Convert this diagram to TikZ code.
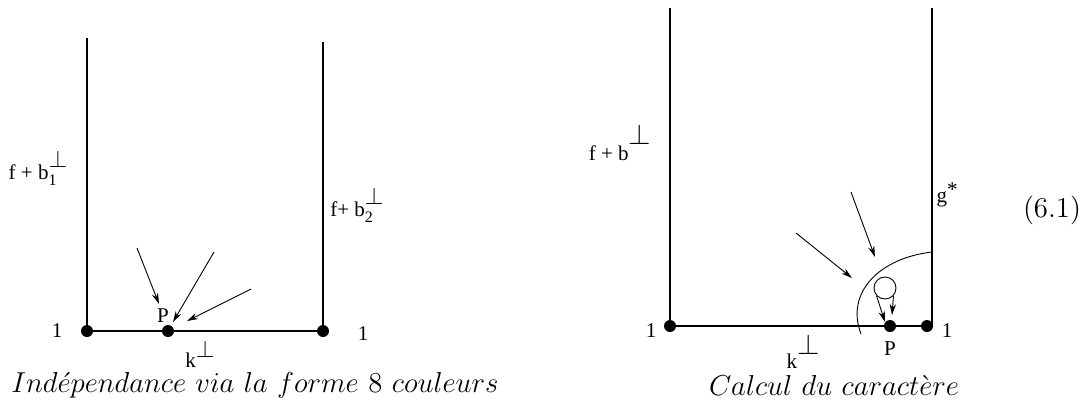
\documentclass[tikz,border=0pt]{standalone}
\usepackage{fontspec}
\newfontfamily\figfont{Liberation Serif}
\usetikzlibrary{arrows.meta,positioning}

\tikzset{
  dot/.style={circle, fill, inner sep=0pt, minimum size=6pt},
  wall/.style={line width=1pt},
  ray/.style={-{Stealth[length=5.5pt,width=3.2pt]}, line width=0.45pt},
  lbl/.style={font=\figfont\fontsize{10.5}{12}\selectfont, inner sep=1pt},
  captext/.style={font=\fontsize{14.4}{17}\selectfont, inner sep=1pt}
}

\begin{document}
\begin{tikzpicture}[x=0.5pt, y=-0.5pt]
    \useasboundingbox (0,0) rectangle (1089,414);

    % Left picture: corners and point P
    \node[dot] (L1) at (87,331) {};
    \node[dot] (LP) at (168,331) {};
    \node[dot] (L2) at (323,331) {};
    \coordinate (Ltop1) at (87,38);
    \coordinate (Ltop2) at (323,42);

    \draw[wall] (Ltop1) -- (L1.center) -- (L2.center) -- (Ltop2);

    \node[lbl] (one1) at (57,331) {1};
    \node[lbl] (one2) at (363,334) {1};
    \node[lbl] (lk) at (200,354) {k\raisebox{5pt}{\large$\perp$}};
    \node[lbl] (lpname) at (163,316) {P};
    \node[lbl] (fb1) at (38,168) {f + b\rlap{\raisebox{-3pt}{\fontsize{8}{8}\selectfont 1}}\raisebox{6pt}{\large$\perp$}};
    \node[lbl] (fb2) at (357,205) {f+ b\rlap{\raisebox{-3pt}{\fontsize{8}{8}\selectfont 2}}\raisebox{6pt}{\large$\perp$}};

    % Rays towards P
    \coordinate (s1) at (137,248);
    \coordinate (e1) at (159,304);
    \coordinate (s2) at (214,252);
    \coordinate (e2) at (173,322);
    \coordinate (s3) at (251,289);
    \coordinate (e3) at (187,321);
    \draw[ray] (s1) -- (e1);
    \draw[ray] (s2) -- (e2);
    \draw[ray] (s3) -- (e3);

    % Right picture
    \node[dot] (R1) at (670,326) {};
    \node[dot] (RP) at (890,326) {};
    \node[dot] (R2) at (927,326) {};
    \coordinate (Rtop1) at (670,8);
    \coordinate (Rtop2) at (932,8);
    \coordinate (Rfoot) at (932,326);

    \draw[wall] (Rtop1) -- (R1.center) -- (R2.center);
    \draw[wall] (Rtop2) -- (Rfoot) -- (R2.center);

    \node[lbl] (one3) at (651,331) {1};
    \node[lbl] (one4) at (947,331) {1};
    \node[lbl] (rk) at (803,351) {k\raisebox{7pt}{\Large$\perp$}};
    \node[lbl] (rpname) at (890,349) {P};
    \node[lbl] (fb) at (620,143) {f + b\raisebox{8pt}{\Large$\perp$}};
    \node[lbl] (gstar) at (947,195) {g\raisebox{3pt}{*}};

    % Neighbourhood of the corner
    \coordinate (arcA) at (932,252);
    \coordinate (arcB) at (861,334);
    \draw[line width=0.45pt] (arcA) .. controls (880,258) and (845,292) .. (arcB);
    \node[circle, draw, line width=0.45pt, minimum size=11pt, inner sep=0pt] (blob) at (885,288) {};

    \coordinate (s4) at (796,233);
    \coordinate (e4) at (852,278);
    \coordinate (s5) at (851,192);
    \coordinate (e5) at (875,257);
    \coordinate (e6) at (885,322);
    \coordinate (e7) at (892,315);
    \draw[ray] (s4) -- (e4);
    \draw[ray] (s5) -- (e5);
    \draw[ray] (blob.222) -- (e6);
    \draw[ray] (blob.318) -- (e7);

    % Captions
    \node[captext] (capL) at (255,385) {$Ind\acute{e}pendance\ via\ la\ forme\ 8\ couleurs$};
    \node[captext] (capR) at (834,385) {$Calcul\ du\ caract\grave{e}re$};
    \node[captext] (eqno) at (1052,210) {(6.1)};
\end{tikzpicture}
\end{document}
